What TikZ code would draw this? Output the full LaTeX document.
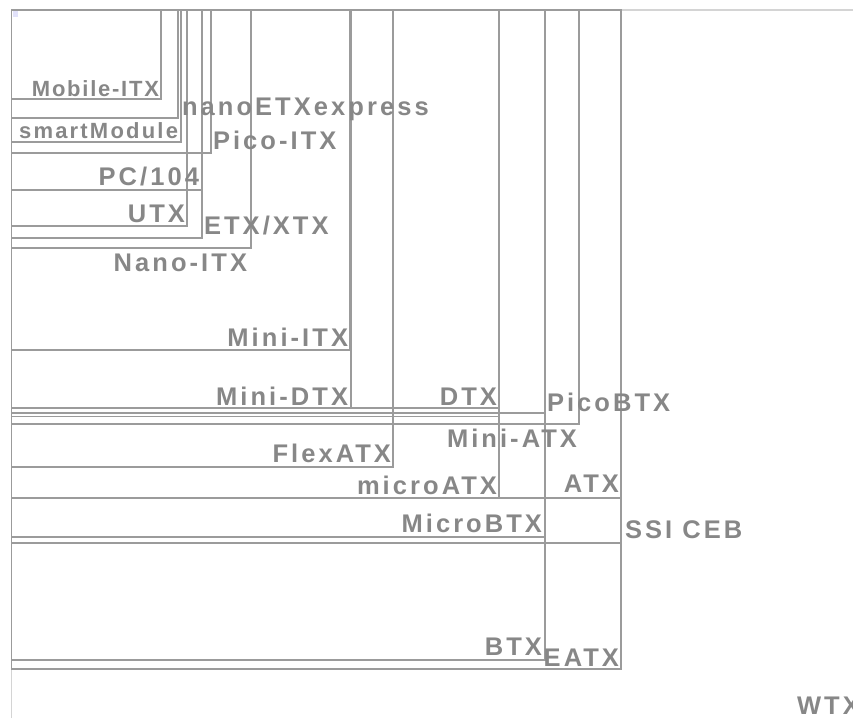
\documentclass[tikz,border=0pt]{standalone}
\usepackage{fontspec}
\newfontfamily\lblfont[LetterSpace=12]{Liberation Sans}
\newfontfamily\slblfont[LetterSpace=8]{Liberation Sans}
\newfontfamily\mlblfont[LetterSpace=10]{Liberation Sans}
\definecolor{edgec}{RGB}{155,155,155}
\definecolor{wtxc}{RGB}{212,212,212}
\definecolor{lblc}{RGB}{135,135,135}
\definecolor{dotc}{RGB}{226,226,250}
\tikzset{
  board/.style={draw=edgec, line width=1.2pt},
  wtxline/.style={draw=wtxc, line width=1.2pt},
  lbl/.style={inner sep=0pt, outer sep=0pt, text=lblc,
    font=\lblfont\bfseries\fontsize{25.5}{25.5}\selectfont},
  slbl/.style={lbl, font=\slblfont\bfseries\fontsize{22}{22}\selectfont},
  mlbl/.style={lbl, font=\mlblfont\bfseries\fontsize{22}{22}\selectfont}
}
\begin{document}
\begin{tikzpicture}[x=1pt,y=-1pt]
\useasboundingbox (0,0) rectangle (853,718);
% WTX (extends beyond the picture)
\draw[wtxline] (11.5,718) -- (11.5,10) -- (853,10);
% boards: top-left corner shared
\coordinate (o) at (11.5,10);
\draw[board] (o) rectangle (621,669); % EATX
\draw[board] (o) rectangle (545,660); % BTX
\draw[board] (o) rectangle (621,543); % SSI CEB
\draw[board] (o) rectangle (545,537); % MicroBTX
\draw[board] (o) rectangle (621,498); % ATX
\draw[board] (o) rectangle (499,498); % microATX
\draw[board] (o) rectangle (393,467); % FlexATX
\draw[board] (o) rectangle (579,424); % Mini-ATX
\draw[board] (o) rectangle (499,416.5); % DTX
\draw[board] (o) rectangle (545,413); % PicoBTX
\draw[board] (o) rectangle (499,408); % 
\draw[board] (o) rectangle (351,408); % Mini-DTX
\draw[board] (o) rectangle (350,350); % Mini-ITX
\draw[board] (o) rectangle (251,248); % Nano-ITX
\draw[board] (o) rectangle (202,238); % ETX/XTX
\draw[board] (o) rectangle (187,226); % UTX
\draw[board] (o) rectangle (202,190); % PC/104
\draw[board] (o) rectangle (211,153); % Pico-ITX
\draw[board] (o) rectangle (181,142); % smartModule
\draw[board] (o) rectangle (178,118); % nanoETXexpress
\draw[board] (o) rectangle (161,99);  % Mobile-ITX
\fill[dotc] (12.5,11) rectangle (18,17);
% labels
\node[slbl, anchor=base east] (mobileitx) at (159,96) {Mobile-ITX};
\node[lbl, anchor=base west] (nanoetx) at (182,115) {nanoETXexpress};
\node[mlbl, anchor=base east] (smartmod) at (178,138) {smartModule};
\node[lbl, anchor=base west] (picoitx) at (213,149) {Pico-ITX};
\node[lbl, anchor=base east] (pc104) at (199,185) {PC/104};
\node[lbl, anchor=base east] (utx) at (185,222) {UTX};
\node[lbl, anchor=base west] (etxxtx) at (204,234) {ETX/XTX};
\node[lbl, anchor=base east] (nanoitx) at (247,271) {Nano-ITX};
\node[lbl, anchor=base east] (miniitx) at (348,346) {Mini-ITX};
\node[lbl, anchor=base east] (minidtx) at (348,405) {Mini-DTX};
\node[lbl, anchor=base east] (dtx) at (497,405) {DTX};
\node[lbl, anchor=base west] (picobtx) at (547,411) {PicoBTX};
\node[lbl, anchor=base east] (miniatx) at (577,447) {Mini-ATX};
\node[lbl, anchor=base east] (flexatx) at (391,462) {FlexATX};
\node[lbl, anchor=base east] (microatx) at (497,494) {microATX};
\node[lbl, anchor=base east] (atx) at (619,492) {ATX};
\node[lbl, anchor=base east] (microbtx) at (542,532) {MicroBTX};
\node[lbl, anchor=base west] (ssiceb) at (625,538) {SSI CEB};
\node[lbl, anchor=base east] (btx) at (542,655) {BTX};
\node[lbl, anchor=base east] (eatx) at (619,666) {EATX};
\node[lbl, anchor=base west] (wtx) at (797,714) {WTX};
\end{tikzpicture}
\end{document}
